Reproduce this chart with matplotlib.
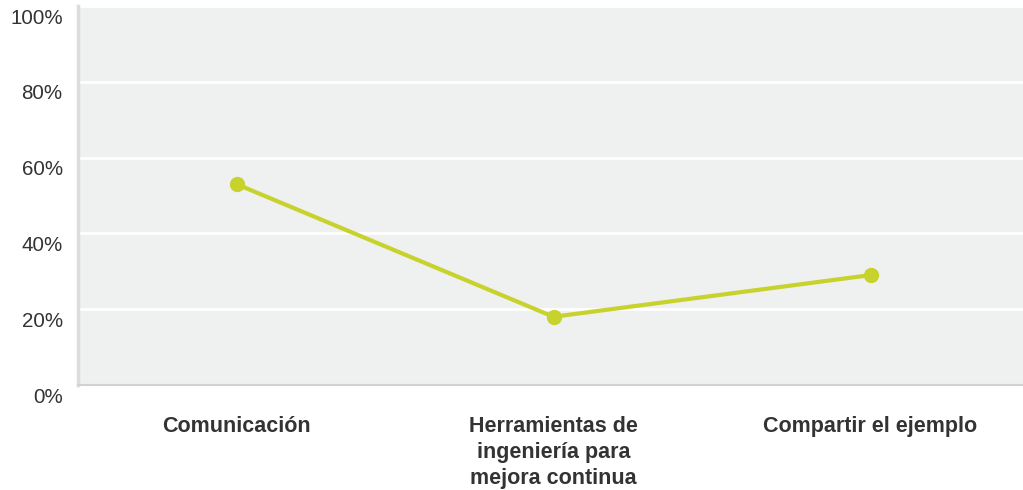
import matplotlib.pyplot as plt
import matplotlib.transforms as mtransforms

categories = ['Comunicación', 'Herramientas de\ningeniería para\nmejora continua', 'Compartir el ejemplo']
values = [53, 18, 29]
yticks = [0, 20, 40, 60, 80, 100]
ytick_labels = ['0%', '20%', '40%', '60%', '80%', '100%']

plt.rcParams['font.family'] = ['Liberation Sans', 'DejaVu Sans']

W, H = 1023, 490
fig = plt.figure(figsize=(W / 100, H / 100), dpi=100)
left_px, right_px, top_px, bottom_px = 78, 1023, 6, 385
ax = fig.add_axes([left_px / W, 1 - bottom_px / H, (right_px - left_px) / W, (bottom_px - top_px) / H])

ax.set_facecolor('#eff0f0')
x = list(range(len(categories)))
ax.plot(x, values, color='#c8d22c', linewidth=3, marker='o', markersize=10,
        solid_capstyle='round', zorder=3)

# 317 px between category centers
ax.set_xlim(-0.5, -0.5 + (right_px - left_px) / 317)
ax.set_ylim(0, 100)

ax.set_yticks(yticks)
ax.set_yticklabels(ytick_labels, fontsize=14.8, color='#333333')
ax.yaxis.grid(True, color='white', linewidth=2)
ax.set_axisbelow(True)
ax.tick_params(axis='y', length=0, pad=11)
offset = mtransforms.ScaledTranslation(0, -10 / 100, fig.dpi_scale_trans)
for lab in ax.get_yticklabels():
    lab.set_transform(lab.get_transform() + offset)

ax.set_xticks(x)
ax.set_xticklabels(categories, fontsize=15.5, fontweight='bold', color='#333333',
                   linespacing=1.32, multialignment='center')
ax.tick_params(axis='x', length=0, pad=22)

for s in ['top', 'right']:
    ax.spines[s].set_visible(False)
ax.spines['left'].set_color('#dcdcdc')
ax.spines['left'].set_linewidth(2.5)
ax.spines['bottom'].set_color('#d2d2d2')
ax.spines['bottom'].set_linewidth(1.5)

fig.savefig('out.png', dpi=100)
